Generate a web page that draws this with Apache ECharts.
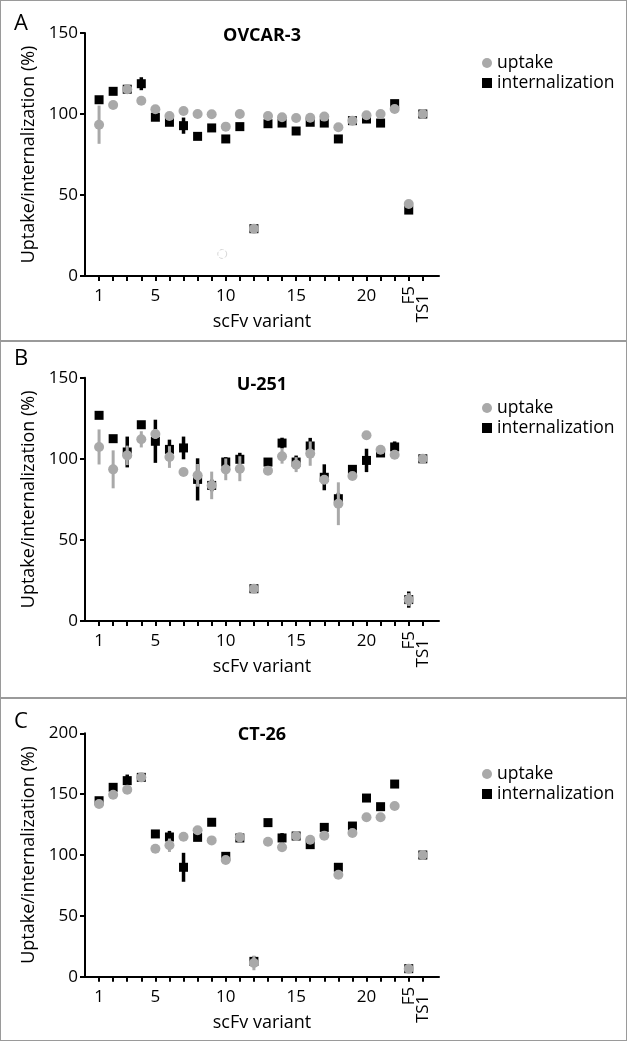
<!DOCTYPE html>
<html>
<head>
<meta charset="utf-8">
<script src="https://cdn.jsdelivr.net/npm/echarts@6/dist/echarts.min.js"></script>
<style>
  html, body { margin:0; padding:0; background:#fff; }
  #wrap { position:relative; width:630px; height:1042px; }
  .panel { position:absolute; left:0; width:627px; border:1.5px solid #9a9a9a; box-sizing:border-box; }
  #chart { position:absolute; left:0; top:0; width:630px; height:1042px; }
</style>
</head>
<body>
<div id="wrap">
  <div class="panel" style="top:0px;height:342px;"></div>
  <div class="panel" style="top:340px;height:359px;"></div>
  <div class="panel" style="top:697px;height:344px;"></div>
  <div id="chart"></div>
</div>
<script>
// ---- data ----
const categories = ['1','2','3','4','5','6','7','8','9','10','11','12','13','14','15','16','17','18','19','20','21','22','F5','TS1'];
const numericTickLabels = [1, 5, 10, 15, 20];
const panelTitles = ['OVCAR-3', 'U-251', 'CT-26'];
const panelLetters = ['A', 'B', 'C'];

const A_uptake      = [93.4,105.6,115.3,108.2,102.9,98.8,101.9,100,99.8,92.2,100,29.2,98.8,98,97.5,97.7,98.4,91.8,95.9,99.2,100,103.1,44.4,100];
const A_uptakeErr   = [11.8,0,0,0,0,0,0,0,0,0,0,0,0,0,0,0,0,0,0,0,0,0,0,0];
const A_intern      = [108.8,114,115.3,118.7,98,94.9,92.8,86.2,91.4,84.6,92.2,29.2,94,94.4,89.5,94.9,94.4,84.6,95.9,96.9,94.4,106.4,40.7,100];
const A_internErr   = [0,0,0,4,0,0,5,0,0,0,0,0,0,0,0,0,0,0,0,0,0,0,0,0];
const A_faintPoint  = [[9.75, 13.6]];   // faint hollow marker visible near variant 10

const B_uptake      = [107.3,93.5,102.1,112,115.3,101.1,91.9,89.8,83.6,93.5,93.9,19.9,92.7,101.5,96.4,103.2,87.1,72.3,89.4,114.5,105.6,102.5,13.2,100];
const B_uptakeErr   = [10.8,11.7,6,5,3,6.7,0,7,8.5,6.7,7.7,0,0,4.5,4.6,7.5,0,13.2,0,0,0,0,4,0];
const B_intern      = [126.8,112.4,104.2,121,110.8,105.8,106.7,87.3,83.6,98,99.7,19.9,98,109.7,98,107.9,88.6,75.4,93.5,99,103.6,107.3,13.2,100];
const B_internErr   = [0,0,9.5,0,13.3,6,7,13,3.6,3,4,0,0,3.3,4,5,8,3.6,0,7.2,0,3.4,5,0];

const C_uptake      = [141.9,149.5,153.7,163.8,105.2,108,115,120.3,112,95.9,114.5,11.3,110.9,106.3,115.6,112.6,115.9,83.8,118.1,131,131,140.3,6.6,100];
const C_uptakeErr   = [0,0,0,0,0,5.5,0,0,0,0,0,6,0,0,4,0,0,0,0,0,0,0,0,0];
const C_intern      = [144.6,155.6,161.1,163.8,117.3,114.8,89.9,114.5,126.9,98.9,114,12.6,126.6,114,115.6,108.5,122.7,89.9,123.8,146.8,139.7,158.3,6.6,100];
const C_internErr   = [0,0,5,0,0,5,11.9,0,0,0,0,4,0,4,0,0,0,0,0,0,0,0,0,0];

const yMax = [150, 150, 200];

// ---- layout ----
const panels = [
  { up: A_uptake, upE: A_uptakeErr, inn: A_intern, innE: A_internErr, faint: A_faintPoint, gridTop: 33,    gridH: 243,   letterTop: 13,  titleTop: 27,  legendTop: 53 },
  { up: B_uptake, upE: B_uptakeErr, inn: B_intern, innE: B_internErr, faint: [], gridTop: 377.7, gridH: 243.3, letterTop: 348, titleTop: 376, legendTop: 398 },
  { up: C_uptake, upE: C_uptakeErr, inn: C_intern, innE: C_internErr, faint: [], gridTop: 733.3, gridH: 243.4, letterTop: 711, titleTop: 726, legendTop: 764 }
];

const FONT = '"Open Sans", sans-serif';
const GRAY = '#a9a9a9';
const BLACK = '#000';
const XMAX = 25.15;
const tickPositions = categories.map((c, i) => i + 1);

function errRender(color, width) {
  return function (params, api) {
    const x = api.value(0), lo = api.value(1), hi = api.value(2);
    const p1 = api.coord([x, lo]), p2 = api.coord([x, hi]);
    return { type: 'line', shape: { x1: p1[0], y1: p1[1], x2: p2[0], y2: p2[1] }, style: { stroke: color, lineWidth: width } };
  };
}

const grid = [], xAxis = [], yAxis = [], series = [], title = [], legend = [];

panels.forEach((p, g) => {
  grid.push({ left: 85, top: p.gridTop, width: 354, height: p.gridH });

  const xi = g * 3;
  xAxis.push({
    gridIndex: g, type: 'value', min: 0, max: XMAX, position: 'bottom',
    axisLine: { show: true, onZero: false, lineStyle: { color: BLACK, width: 2 } },
    axisTick: { show: true, customValues: tickPositions, length: 5, lineStyle: { color: BLACK, width: 2 } },
    axisLabel: { customValues: numericTickLabels, formatter: v => categories[Math.round(v) - 1], fontSize: 17, fontFamily: FONT, color: BLACK, margin: 12 },
    splitLine: { show: false },
    name: 'scFv variant', nameLocation: 'middle', nameGap: 37,
    nameTextStyle: { fontSize: 18, fontFamily: FONT, color: BLACK }
  });
  [[23, 10], [24, 18]].forEach(([pos, margin]) => {
    xAxis.push({
      gridIndex: g, type: 'value', min: 0, max: XMAX, position: 'bottom', offset: 0,
      axisLine: { show: false, onZero: false }, axisTick: { show: false }, splitLine: { show: false },
      axisLabel: { customValues: [pos], rotate: 90, formatter: v => categories[Math.round(v) - 1], fontSize: 17, fontFamily: FONT, color: BLACK, margin: margin }
    });
  });

  yAxis.push({
    gridIndex: g, type: 'value', min: 0, max: yMax[g], interval: 50,
    axisLine: { show: true, lineStyle: { color: BLACK, width: 2 } },
    axisTick: { show: true, length: 5, lineStyle: { color: BLACK, width: 2 } },
    axisLabel: { fontSize: 17, fontFamily: FONT, color: BLACK, margin: 7 },
    splitLine: { show: false },
    name: 'Uptake/internalization (%)', nameLocation: 'middle', nameGap: 46,
    nameTextStyle: { fontSize: 18, fontFamily: FONT, color: BLACK }
  });

  const errData = (vals, errs) => vals.map((v, i) => [i + 1, v - errs[i], v + errs[i]]).filter((d, i) => errs[i] > 0);

  series.push({
    type: 'custom', name: 'internalization', xAxisIndex: xi, yAxisIndex: g, z: 2,
    renderItem: errRender(BLACK, 3.5), encode: { x: 0, y: [1, 2] },
    data: errData(p.inn, p.innE), silent: true
  });
  series.push({
    type: 'scatter', name: 'internalization', xAxisIndex: xi, yAxisIndex: g, z: 3,
    symbol: 'rect', symbolSize: 9, itemStyle: { color: BLACK, opacity: 1 },
    data: p.inn.map((v, i) => [i + 1, v])
  });
  series.push({
    type: 'custom', name: 'uptake', xAxisIndex: xi, yAxisIndex: g, z: 4,
    renderItem: errRender(GRAY, 3), encode: { x: 0, y: [1, 2] },
    data: errData(p.up, p.upE), silent: true
  });
  series.push({
    type: 'scatter', name: 'uptake', xAxisIndex: xi, yAxisIndex: g, z: 5,
    symbol: 'circle', symbolSize: 10, itemStyle: { color: GRAY, opacity: 1 },
    data: p.up.map((v, i) => [i + 1, v])
  });
  if (p.faint.length) {
    series.push({
      type: 'scatter', name: 'faint', xAxisIndex: xi, yAxisIndex: g, z: 1,
      symbol: 'circle', symbolSize: 9,
      itemStyle: { color: '#fff', borderColor: '#d6d6d6', borderWidth: 1, borderType: 'dashed', opacity: 1 },
      data: p.faint
    });
  }

  title.push({
    text: panelTitles[g], left: 262, top: p.titleTop, textAlign: 'center', padding: 0,
    textStyle: { fontSize: 18, fontWeight: 'bold', fontFamily: FONT, color: BLACK }
  });
  title.push({
    text: panelLetters[g], left: 14, top: p.letterTop, padding: 0,
    textStyle: { fontSize: 22, fontWeight: 'normal', fontFamily: FONT, color: BLACK }
  });

  legend.push({
    orient: 'vertical', left: 482, top: p.legendTop, padding: 0,
    itemWidth: 10, itemHeight: 10, itemGap: 0,
    textStyle: { fontSize: 17.5, fontFamily: FONT, color: BLACK, lineHeight: 20 },
    data: [
      { name: 'uptake', icon: 'circle', itemStyle: { color: GRAY } },
      { name: 'internalization', icon: 'rect', itemStyle: { color: BLACK } }
    ],
    selectedMode: false
  });
});

const chart = echarts.init(document.getElementById('chart'), null, { renderer: 'canvas' });
chart.setOption({
  animation: false,
  backgroundColor: 'transparent',
  title, legend, grid, xAxis, yAxis, series
});
</script>
</body>
</html>
